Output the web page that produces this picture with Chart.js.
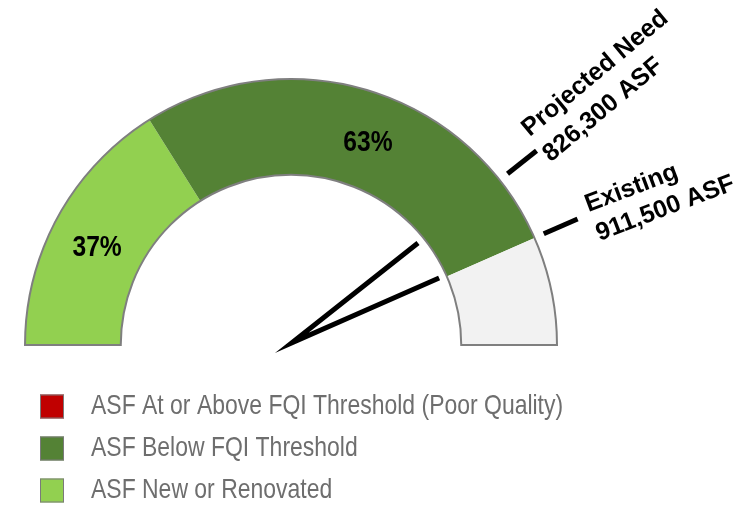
<!DOCTYPE html>
<html><head><meta charset="utf-8">
<script src="https://cdn.jsdelivr.net/npm/chart.js@4.4.0/dist/chart.umd.min.js"></script>
<style>html,body{margin:0;padding:0;background:#fff}</style>
</head><body>
<canvas id="c" width="756" height="511"></canvas>
<script>
// ---- data ----
const categories = ['ASF New or Renovated', 'ASF Below FQI Threshold', 'ASF At or Above FQI Threshold (Poor Quality)', 'Remaining'];
const asfValues = [337300, 574200, 0, 138500];
const percentLabels = ['37%', '63%', '', ''];
const markerNames = ['Projected Need', 'Existing'];
const markerValues = [826300, 911500];
const markerTexts = ['826,300 ASF', '911,500 ASF'];
const legendOrder = [2, 1, 0];

// ---- styles ----
const colors = ['#92d050', '#548235', '#c00000', '#f2f2f2'];
const labelOffsets = [[-3, 8], [13, 6]];
const markerAngleTweak = [-1.5, 3];
const markerRadius = [1.19, 1.225];
const markerLineDy = [[-15, 18], [-2, 29]];

function hasFont() {
  const c = document.createElement('canvas').getContext('2d');
  c.font = '30px monospace';
  const w1 = c.measureText('ASF Threshold').width;
  c.font = '30px "Liberation Sans Narrow", monospace';
  const w2 = c.measureText('ASF Threshold').width;
  return w1 !== w2;
}
const hasNarrow = hasFont();

function narrowText(ctx, text, x, y, size, weight, color, align) {
  ctx.save();
  ctx.fillStyle = color;
  ctx.textBaseline = 'middle';
  ctx.textAlign = align || 'left';
  if (hasNarrow) {
    ctx.font = weight + ' ' + size + 'px "Liberation Sans Narrow", "Arial Narrow", sans-serif';
    ctx.fillText(text, x, y);
  } else {
    ctx.font = weight + ' ' + size + 'px "Liberation Sans", Arial, sans-serif';
    ctx.translate(x, y);
    ctx.scale(0.82, 1);
    ctx.fillText(text, 0, 0);
  }
  ctx.restore();
}

const gaugePlugin = {
  id: 'gauge',
  afterDatasetsDraw(chart) {
    const ctx = chart.ctx;
    const meta = chart.getDatasetMeta(0);
    const a0 = meta.data[0];
    const cx = a0.x, cy = a0.y, R = a0.outerRadius, r = a0.innerRadius;
    const total = asfValues.reduce((s, v) => s + v, 0);
    const ang = v => Math.PI + (v / total) * Math.PI;

    // outline
    ctx.save();
    ctx.beginPath();
    ctx.arc(cx, cy, R, Math.PI, 2 * Math.PI);
    ctx.lineTo(cx + r, cy);
    ctx.arc(cx, cy, r, 2 * Math.PI, Math.PI, true);
    ctx.closePath();
    ctx.strokeStyle = '#7f7f7f';
    ctx.lineWidth = 2;
    ctx.stroke();
    ctx.restore();

    // percent labels
    meta.data.forEach((arc, i) => {
      if (!percentLabels[i]) return;
      const p = arc.getCenterPoint();
      const off = labelOffsets[i] || [0, 0];
      narrowText(ctx, percentLabels[i], p.x + off[0], p.y + off[1], 30, 'bold', '#000', 'center');
    });

    // needles (from gauge centre, mitred tip)
    const px = cx + 0.003 * R, py = cy - 0.008 * R, L = 0.605 * R;
    const e = markerValues.map(v => [px + L * Math.cos(ang(v)), py + L * Math.sin(ang(v))]);
    ctx.save();
    ctx.strokeStyle = '#000';
    ctx.lineWidth = 5;
    ctx.lineJoin = 'miter';
    ctx.miterLimit = 40;
    ctx.lineCap = 'butt';
    ctx.beginPath();
    ctx.moveTo(e[0][0], e[0][1]);
    ctx.lineTo(px, py);
    ctx.lineTo(e[1][0], e[1][1]);
    ctx.stroke();
    ctx.restore();

    // ticks and labels
    markerValues.forEach((v, i) => {
      const a = ang(v);
      ctx.save();
      ctx.strokeStyle = '#000';
      ctx.lineWidth = 5;
      ctx.beginPath();
      ctx.moveTo(cx + 1.038 * R * Math.cos(a), cy + 1.038 * R * Math.sin(a));
      ctx.lineTo(cx + 1.177 * R * Math.cos(a), cy + 1.177 * R * Math.sin(a));
      ctx.stroke();
      ctx.restore();

      const ar = markerRadius[i] * R;
      ctx.save();
      ctx.translate(cx + ar * Math.cos(a), cy + ar * Math.sin(a));
      ctx.rotate(a + markerAngleTweak[i] * Math.PI / 180);
      ctx.fillStyle = '#000';
      ctx.font = 'bold 25px "Liberation Sans", Arial, sans-serif';
      ctx.textAlign = 'left';
      ctx.textBaseline = 'alphabetic';
      ctx.fillText(markerNames[i], 0, markerLineDy[i][0]);
      ctx.fillText(markerTexts[i], 0, markerLineDy[i][1]);
      ctx.restore();
    });

    // legend
    const bg = chart.data.datasets[0].backgroundColor;
    legendOrder.forEach((idx, row) => {
      const y = 406 + row * 42;
      ctx.save();
      ctx.fillStyle = bg[idx];
      ctx.fillRect(40, y - 11.5, 24, 24);
      ctx.strokeStyle = '#7a7a7a';
      ctx.lineWidth = 1;
      ctx.strokeRect(40.5, y - 11, 23, 23);
      ctx.restore();
      narrowText(ctx, chart.data.labels[idx], 91, y, 28, 'normal', '#6e6e6e', 'left');
    });
  }
};

new Chart(document.getElementById('c'), {
  type: 'doughnut',
  data: {
    labels: categories,
    datasets: [{ data: asfValues, backgroundColor: colors, borderWidth: 0, hoverOffset: 0 }]
  },
  options: {
    responsive: false,
    animation: false,
    events: [],
    rotation: -90,
    circumference: 180,
    cutout: '64%',
    layout: { padding: { left: 25, right: 199, top: 79, bottom: 166 } },
    plugins: { legend: { display: false }, tooltip: { enabled: false } }
  },
  plugins: [gaugePlugin]
});
</script>
</body></html>
